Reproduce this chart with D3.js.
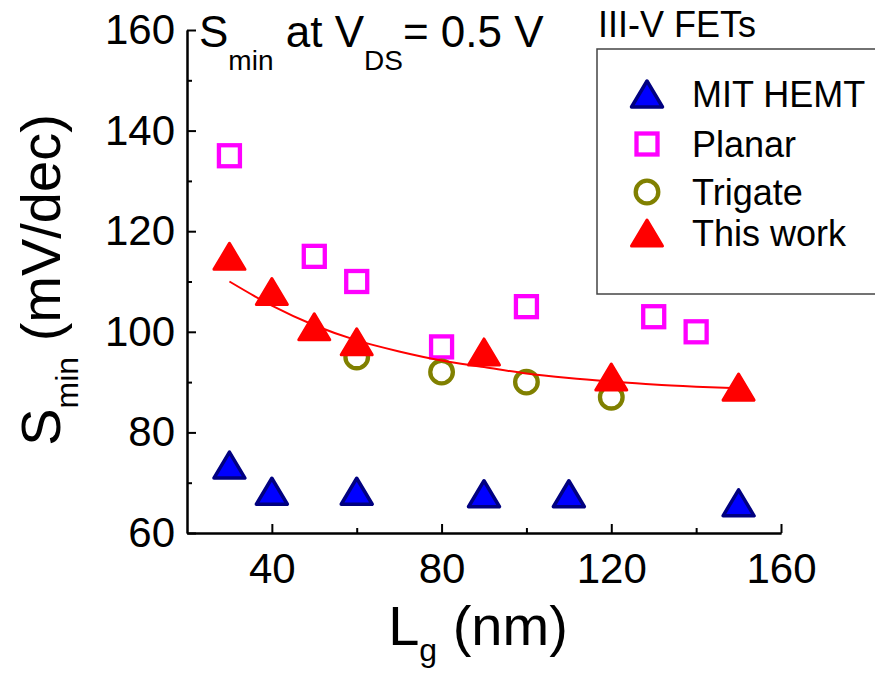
<!DOCTYPE html>
<html>
<head>
<script src="https://d3js.org/d3.v7.min.js" charset="utf-8"></script>
<style>
  body { margin: 0; background: #fff; }
  text { font-family: "Liberation Sans", Arial, sans-serif; }
</style>
</head>
<body>
<svg id="chart" width="875" height="677"></svg>
<script>
// data: [Lg (nm), Smin (mV/dec)]
const mitHemt = [[30, 73.5], [40, 68.3], [60, 68.3], [90, 67.8], [110, 67.8], [150, 66]];
const planar = [[30, 135], [50, 115], [60, 110], [80, 97], [100, 105], [130, 103], [140, 100]];
const trigate = [[60, 95], [80, 92], [100, 90], [120, 87]];
const thisWork = [[30, 115], [40, 108], [50, 101], [60, 98], [90, 96], [120, 91], [150, 89]];
const fitCurve = [[30, 110], [40, 105.2], [50, 101.3], [60, 98.3], [70, 96.1], [80, 94.3],
                  [90, 93], [100, 91.7], [110, 90.8], [120, 90.1], [130, 89.5], [140, 89.1], [150, 88.8]];
const xMajor = [40, 80, 120, 160];
const xMinor = [60, 100, 140];
const yMajor = [60, 80, 100, 120, 140, 160];
const yMinor = [70, 90, 110, 130, 150];
const legendNames = ["MIT HEMT", "Planar", "Trigate", "This work"];

const svg = d3.select("#chart");
const x = d3.scaleLinear().domain([20, 160]).range([187, 781]);
const y = d3.scaleLinear().domain([60, 160]).range([533, 30]);

// axes
function styleAxis(g) {
    g.select(".domain").attr("stroke", "#000").attr("stroke-width", 2);
    g.selectAll(".tick line").attr("stroke", "#000").attr("stroke-width", 2);
    g.selectAll(".tick text").attr("fill", "#000").attr("font-size", 42);
}
svg.append("g").attr("transform", "translate(0,533)")
    .call(d3.axisBottom(x).tickValues(xMajor).tickSizeInner(-9).tickSizeOuter(0).tickPadding(20))
    .call(styleAxis);
svg.append("g").attr("transform", "translate(0,533)")
    .call(d3.axisBottom(x).tickValues(xMinor).tickSizeInner(-5).tickSizeOuter(0).tickFormat(""))
    .call(styleAxis);
svg.append("g").attr("transform", "translate(187,0)")
    .call(d3.axisLeft(y).tickValues(yMajor).tickSizeInner(-9).tickSizeOuter(0).tickPadding(12))
    .call(styleAxis);
svg.append("g").attr("transform", "translate(187,0)")
    .call(d3.axisLeft(y).tickValues(yMinor).tickSizeInner(-5).tickSizeOuter(0).tickFormat(""))
    .call(styleAxis);

// symbols
function triPath(cx, cy) {
    const w = 31, h = 26;
    return `M${cx},${cy - h / 2}L${cx + w / 2},${cy + h / 2}L${cx - w / 2},${cy + h / 2}Z`;
}
function drawTri(g, cx, cy, fill, stroke, sw) {
    g.append("path").attr("d", triPath(cx, cy))
        .attr("fill", fill).attr("stroke", stroke).attr("stroke-width", sw)
        .attr("stroke-linejoin", "round");
}
function drawSquare(g, cx, cy) {
    g.append("rect").attr("x", cx - 10.5).attr("y", cy - 10.5)
        .attr("width", 21).attr("height", 21)
        .attr("fill", "none").attr("stroke", "#ff00ff").attr("stroke-width", 4.3);
}
function drawCircle(g, cx, cy) {
    g.append("circle").attr("cx", cx).attr("cy", cy).attr("r", 11.3)
        .attr("fill", "none").attr("stroke", "#808000").attr("stroke-width", 4.3);
}

const marks = svg.append("g");
planar.forEach(d => drawSquare(marks, x(d[0]), y(d[1])));
trigate.forEach(d => drawCircle(marks, x(d[0]), y(d[1])));
thisWork.forEach(d => drawTri(marks, x(d[0]), y(d[1]), "#ff0000", "#ff0000", 3));
mitHemt.forEach(d => drawTri(marks, x(d[0]), y(d[1]), "#0000ff", "#000080", 3.5));

// fit curve
svg.append("path").datum(fitCurve)
    .attr("d", d3.line().x(d => x(d[0])).y(d => y(d[1])).curve(d3.curveMonotoneX))
    .attr("fill", "none").attr("stroke", "#ff0000").attr("stroke-width", 2);

// legend
svg.append("text").attr("x", 598).attr("y", 37).attr("font-size", 36).text("III-V FETs");
svg.append("rect").attr("x", 597).attr("y", 49).attr("width", 290).attr("height", 245)
    .attr("fill", "#fff").attr("stroke", "#444").attr("stroke-width", 1.5);
const legY = [94, 144, 192, 233];
const leg = svg.append("g");
drawTri(leg, 647, legY[0], "#0000ff", "#000080", 3.5);
drawSquare(leg, 647, legY[1]);
drawCircle(leg, 647, legY[2]);
drawTri(leg, 647, legY[3], "#ff0000", "#ff0000", 3);
legendNames.forEach((n, i) => {
    leg.append("text").attr("x", 692).attr("y", legY[i] + 13)
        .attr("font-size", 36).text(n);
});

// top-left label
const t = svg.append("text").attr("x", 199).attr("y", 47).attr("font-size", 44);
t.append("tspan").text("S");
t.append("tspan").attr("font-size", 28).attr("dy", 23).text("min");
t.append("tspan").attr("dy", -23).text(" at V");
t.append("tspan").attr("font-size", 28).attr("dy", 23).text("DS");
t.append("tspan").attr("dy", -23).text("= 0.5 V");

// axis titles
const yt = svg.append("text").attr("transform", "translate(60,280) rotate(-90)")
    .attr("text-anchor", "middle").attr("font-size", 56);
yt.append("tspan").text("S");
yt.append("tspan").attr("font-size", 32).attr("dy", 18).text("min");
yt.append("tspan").attr("dy", -18).text(" (mV/dec)");

const xt = svg.append("text").attr("x", 478).attr("y", 645)
    .attr("text-anchor", "middle").attr("font-size", 56);
xt.append("tspan").text("L");
xt.append("tspan").attr("font-size", 32).attr("dy", 16).text("g");
xt.append("tspan").attr("dy", -16).text(" (nm)");
</script>
</body>
</html>
